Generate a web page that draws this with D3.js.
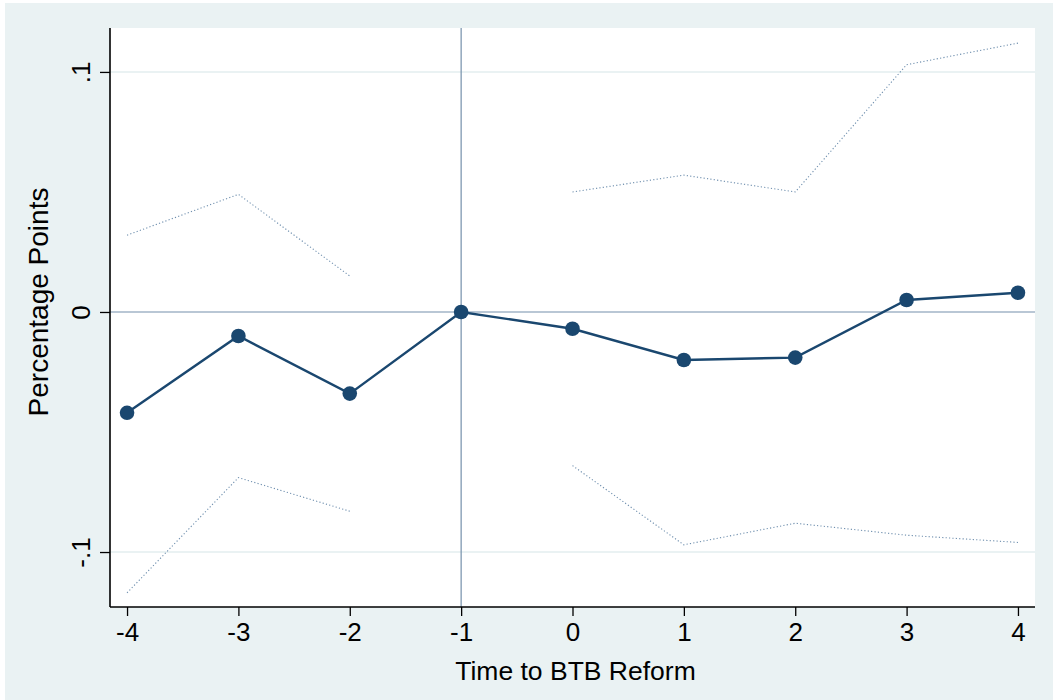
<!DOCTYPE html>
<html>
<head>
<meta charset="utf-8">
<script src="https://cdn.jsdelivr.net/npm/d3@7"></script>
<style>
  html, body { margin: 0; padding: 0; background: #ffffff; }
  svg { display: block; font-family: "Liberation Sans", Arial, sans-serif; }
</style>
</head>
<body>
<svg id="chart" width="1053" height="700"></svg>
<script>
// Event-study estimates by years relative to the reform
const periods = [-4, -3, -2, -1, 0, 1, 2, 3, 4];
const estimates = [-0.042, -0.010, -0.034, 0, -0.007, -0.020, -0.019, 0.005, 0.008];
const upperCI = [0.032, 0.049, 0.015, null, 0.050, 0.057, 0.050, 0.103, 0.112];
const lowerCI = [-0.117, -0.069, -0.083, null, -0.064, -0.097, -0.088, -0.093, -0.096];
const yTicks = [-0.1, 0, 0.1];
const yTickLabels = ["-.1", "0", ".1"];

const svg = d3.select("#chart");
const W = 1053, H = 700;
const plot = { left: 110, right: 1035, top: 28, bottom: 607 };
const FONT = "Liberation Sans, Arial, sans-serif";
const FS = 26;

// outer graph region
svg.append("rect").attr("x", 5).attr("y", 3).attr("width", W - 5).attr("height", H - 3)
  .attr("fill", "#eaf2f3");
// inner plot region
svg.append("rect").attr("x", plot.left).attr("y", plot.top)
  .attr("width", plot.right - plot.left).attr("height", plot.bottom - plot.top)
  .attr("fill", "#ffffff");

const x = d3.scaleLinear().domain([-4.153, 4.153]).range([plot.left, plot.right]);
const y = d3.scaleLinear().domain([-0.1229, 0.1183]).range([plot.bottom, plot.top]);

// horizontal gridlines
svg.append("g").selectAll("line").data(yTicks.filter(d => d !== 0)).join("line")
  .attr("x1", plot.left).attr("x2", plot.right)
  .attr("y1", d => y(d)).attr("y2", d => y(d))
  .attr("stroke", "#eaf2f3").attr("stroke-width", 2);

// reference lines at zero and at period -1
svg.append("line").attr("x1", plot.left).attr("x2", plot.right)
  .attr("y1", y(0)).attr("y2", y(0))
  .attr("stroke", "#7590ab").attr("stroke-width", 1.2);
svg.append("line").attr("x1", x(-1)).attr("x2", x(-1))
  .attr("y1", plot.top).attr("y2", plot.bottom)
  .attr("stroke", "#7590ab").attr("stroke-width", 1.2);

// confidence bounds (dotted, broken where undefined)
const ciLine = d3.line()
  .defined(d => d.v !== null)
  .x(d => x(d.p)).y(d => y(d.v));
[upperCI, lowerCI].forEach(arr => {
  svg.append("path")
    .datum(periods.map((p, i) => ({ p, v: arr[i] })))
    .attr("d", ciLine)
    .attr("fill", "none")
    .attr("stroke", "#6f8fae")
    .attr("stroke-width", 1.1)
    .attr("stroke-dasharray", "1.2,2.2");
});

// point estimates
const pts = periods.map((p, i) => ({ p, v: estimates[i] }));
svg.append("path").datum(pts)
  .attr("d", d3.line().x(d => x(d.p)).y(d => y(d.v)))
  .attr("fill", "none").attr("stroke", "#1a476f").attr("stroke-width", 2.4);
svg.append("g").selectAll("circle").data(pts).join("circle")
  .attr("cx", d => x(d.p)).attr("cy", d => y(d.v)).attr("r", 7.3)
  .attr("fill", "#1a476f");

// axes
const xAxis = d3.axisBottom(x).tickValues(periods).tickSize(9).tickPadding(7)
  .tickFormat(d => String(d));
const gx = svg.append("g").attr("transform", `translate(0,${plot.bottom})`).call(xAxis);
gx.attr("font-size", FS).attr("font-family", FONT);
gx.select(".domain").attr("d", `M${plot.left},0H${plot.right}`).attr("stroke", "#000").attr("stroke-width", 1.6);
gx.selectAll(".tick line").attr("stroke", "#000").attr("stroke-width", 1.3);
gx.selectAll(".tick text").attr("fill", "#000");

const yAxis = d3.axisLeft(y).tickValues(yTicks).tickSize(10)
  .tickFormat((d, i) => yTickLabels[i]);
const gy = svg.append("g").attr("transform", `translate(${plot.left},0)`).call(yAxis);
gy.attr("font-size", FS).attr("font-family", FONT);
gy.select(".domain").attr("d", `M0,${plot.top}V${plot.bottom}`).attr("stroke", "#000").attr("stroke-width", 1.6);
gy.selectAll(".tick line").attr("stroke", "#000").attr("stroke-width", 1.3);
gy.selectAll(".tick text")
  .attr("fill", "#000")
  .attr("x", null).attr("dy", null)
  .attr("text-anchor", "middle")
  .attr("transform", "translate(-20,0) rotate(-90)");

// axis titles
svg.append("text")
  .attr("x", (plot.left + plot.right) / 2 + 3).attr("y", 680)
  .attr("text-anchor", "middle").attr("font-size", 26.5).attr("font-family", FONT).attr("fill", "#000")
  .text("Time to BTB Reform");
svg.append("text")
  .attr("transform", `translate(48,302) rotate(-90)`)
  .attr("text-anchor", "middle").attr("font-size", 28).attr("font-family", FONT).attr("fill", "#000")
  .text("Percentage Points");
</script>
</body>
</html>
